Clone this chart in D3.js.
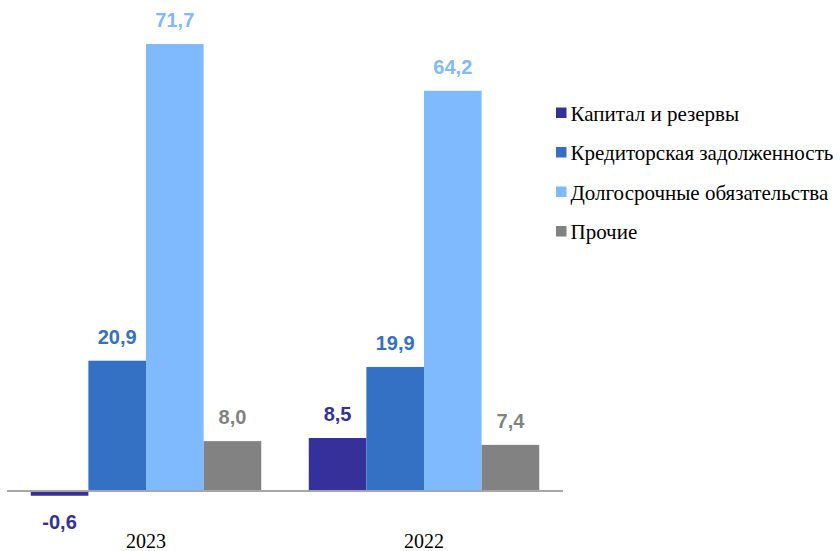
<!DOCTYPE html>
<head>
  <meta charset="utf-8">
  <title>Структура пассивов</title>
</head>
<style>
  body { margin: 0; background: #fff; }
</style>
<body>
<svg id="chart" width="840" height="551"></svg>
<script src="https://cdn.jsdelivr.net/npm/d3@7"></script>
<script>
  var years = ["2023", "2022"];
  var seriesNames = ["Капитал и резервы", "Кредиторская задолженность", "Долгосрочные обязательства", "Прочие"];
  var colors = ["#36309a", "#3470c4", "#7fbaff", "#828282"];
  var capital = [-0.6, 8.5];
  var payables = [20.9, 19.9];
  var longTerm = [71.7, 64.2];
  var other = [8.0, 7.4];
  var values = [capital, payables, longTerm, other];

  var serif = "'Liberation Serif', 'Times New Roman', serif";
  var sans = "'Liberation Sans', Arial, sans-serif";

  var svg = d3.select("#chart");
  var zeroY = 491;

  var x0 = d3.scaleBand().domain(years).range([7, 563]).paddingInner(0.171).paddingOuter(0.0855);
  var x1 = d3.scaleBand().domain(d3.range(seriesNames.length)).range([0, x0.bandwidth()]);
  var y = d3.scaleLinear().domain([0, 71.7]).range([zeroY, 44]);

  var rows = [];
  years.forEach(function(yr, i) {
    values.forEach(function(s, j) { rows.push({ year: yr, s: j, v: s[i] }); });
  });

  var fmt = function(v) { return d3.format(".1f")(v).replace(".", ",").replace("−", "-"); };

  svg.selectAll(".bar").data(rows).enter().append("rect")
    .attr("class", "bar")
    .attr("x", d => x0(d.year) + x1(d.s))
    .attr("width", x1.bandwidth())
    .attr("y", d => d.v >= 0 ? y(d.v) : zeroY + 1)
    .attr("height", d => d.v >= 0 ? zeroY - y(d.v) : y(d.v) - zeroY)
    .attr("fill", d => colors[d.s]);

  // axis line
  svg.append("line")
    .attr("x1", x0.range()[0]).attr("x2", x0.range()[1])
    .attr("y1", zeroY).attr("y2", zeroY)
    .attr("stroke", "#a6a6a6").attr("stroke-width", 2);

  svg.selectAll(".val").data(rows).enter().append("text")
    .attr("class", "val")
    .attr("x", d => x0(d.year) + x1(d.s) + x1.bandwidth() / 2)
    .attr("y", d => d.v >= 0 ? y(d.v) - 17 : 529)
    .attr("text-anchor", "middle")
    .attr("font-family", sans)
    .attr("font-weight", "bold")
    .attr("font-size", 20)
    .attr("fill", d => colors[d.s])
    .text(d => fmt(d.v));

  svg.selectAll(".cat").data(years).enter().append("text")
    .attr("class", "cat")
    .attr("x", d => x0(d) + x0.bandwidth() / 2)
    .attr("y", 548)
    .attr("text-anchor", "middle")
    .attr("font-family", serif)
    .attr("font-size", 20)
    .attr("fill", "#000")
    .text(d => d);

  var leg = svg.selectAll(".leg").data(seriesNames).enter().append("g")
    .attr("class", "leg")
    .attr("transform", (d, i) => "translate(556," + (112.5 + i * 39.5) + ")");
  leg.append("rect").attr("x", 0).attr("y", -5).attr("width", 10.5).attr("height", 10.5)
    .attr("fill", (d, i) => colors[i]);
  leg.append("text").attr("x", 14.5).attr("y", 8)
    .attr("font-family", serif)
    .attr("font-size", 21).attr("fill", "#000")
    .text(d => d);
</script>
</body>
